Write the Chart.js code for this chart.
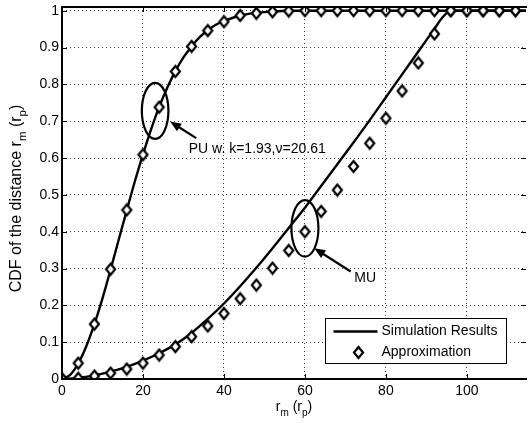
<!DOCTYPE html>
<html>
<head>
<meta charset="utf-8">
<script src="https://cdn.jsdelivr.net/npm/chart.js@4.4.1/dist/chart.umd.min.js"></script>
<style>
  html, body { margin: 0; padding: 0; background: #fff; }
  #wrap { width: 532px; height: 423px; position: relative; }
</style>
</head>
<body>
<div id="wrap"><canvas id="cdfChart"></canvas></div>
<script>
// approximation markers, every 4 units of r_m (r_p)
const approxX = [0,4,8,12,16,20,24,28,32,36,40,44,48,52,56,60,64,68,72,76,80,84,88,92,96,100,104,108,112];
const puApprox = [0,0.043,0.149,0.298,0.459,0.609,0.738,0.835,0.903,0.946,0.970,0.987,0.993,0.997,0.999,1,1,1,1,1,1,1,1,1,1,1,1,1,1];
const muApprox = [0,0.002,0.008,0.016,0.027,0.043,0.065,0.088,0.115,0.144,0.178,0.218,0.255,0.301,0.349,0.400,0.455,0.513,0.577,0.640,0.708,0.782,0.858,0.937,1,1,1,1,1];

// simulation curves
const puSimX = [0,2,4,6,8,10,12,14,16,18,20,22,24,26,28,30,32,34,36,38,40,44,48,52,56,60,80,100,116];
const puSimY = [0,0.011,0.042,0.089,0.149,0.219,0.297,0.378,0.458,0.537,0.610,0.678,0.739,0.791,0.836,0.873,0.903,0.928,0.947,0.962,0.972,0.987,0.994,0.998,1,1,1,1,1];
const muSimX = [0,4,8,12,16,20,24,28,32,36,40,44,48,52,56,60,64,68,72,76,80,84,88,92,94,96,100,116];
const muSimY = [0,0.003,0.01,0.02,0.033,0.05,0.07,0.094,0.125,0.163,0.205,0.252,0.302,0.355,0.41,0.465,0.524,0.583,0.642,0.703,0.765,0.827,0.889,0.951,0.982,1,1,1];

const xTicks = [0,20,40,60,80,100];
const yTicks = [0,0.1,0.2,0.3,0.4,0.5,0.6,0.7,0.8,0.9,1];
const xMax = 114.6;
const yMax = 1.01;

const FONT = '"Liberation Sans", Arial, Helvetica, sans-serif';

const pts = (xs, ys) => xs.map((x, i) => ({ x: x, y: ys[i] }));

// diamond marker (white inside, thick black edge)
const diamond = document.createElement('canvas');
diamond.width = 13;
diamond.height = 15;
(function () {
  const g = diamond.getContext('2d');
  g.beginPath();
  g.moveTo(6.5, 2);
  g.lineTo(11, 7.5);
  g.lineTo(6.5, 13);
  g.lineTo(2, 7.5);
  g.closePath();
  g.fillStyle = '#fff';
  g.fill();
  g.lineWidth = 2.2;
  g.strokeStyle = '#000';
  g.stroke();
})();

// text with subscripts, parts = [[text, isSub], ...]
function partsWidth(ctx, parts, big, small) {
  let w = 0;
  parts.forEach(p => {
    ctx.font = (p[1] ? small : big) + 'px ' + FONT;
    w += ctx.measureText(p[0]).width;
  });
  return w;
}
function drawParts(ctx, parts, x, y, big, small) {
  parts.forEach(p => {
    ctx.font = (p[1] ? small : big) + 'px ' + FONT;
    ctx.fillText(p[0], x, p[1] ? y + 5 : y);
    x += ctx.measureText(p[0]).width;
  });
}

function arrow(ctx, x0, y0, x1, y1) {
  const a = Math.atan2(y1 - y0, x1 - x0);
  const len = 11, hw = 4.5;
  ctx.beginPath();
  ctx.moveTo(x0, y0);
  ctx.lineTo(x1 - Math.cos(a) * len * 0.8, y1 - Math.sin(a) * len * 0.8);
  ctx.stroke();
  ctx.beginPath();
  ctx.moveTo(x1, y1);
  ctx.lineTo(x1 - Math.cos(a) * len - Math.sin(a) * hw, y1 - Math.sin(a) * len + Math.cos(a) * hw);
  ctx.lineTo(x1 - Math.cos(a) * len + Math.sin(a) * hw, y1 - Math.sin(a) * len - Math.cos(a) * hw);
  ctx.closePath();
  ctx.fill();
}

const decor = {
  id: 'decor',
  afterDraw(chart) {
    const ctx = chart.ctx;
    const a = chart.chartArea;
    const sx = chart.scales.x, sy = chart.scales.y;
    ctx.save();
    ctx.strokeStyle = '#000';
    ctx.fillStyle = '#000';

    // inward ticks
    ctx.lineWidth = 1;
    ctx.beginPath();
    yTicks.forEach(v => {
      const y = Math.round(sy.getPixelForValue(v)) + 0.5;
      ctx.moveTo(a.left, y); ctx.lineTo(a.left + 5, y);
      ctx.moveTo(a.right - 5, y); ctx.lineTo(a.right, y);
    });
    xTicks.forEach(v => {
      const x = Math.round(sx.getPixelForValue(v)) + 0.5;
      ctx.moveTo(x, a.bottom); ctx.lineTo(x, a.bottom - 5);
      ctx.moveTo(x, a.top); ctx.lineTo(x, a.top + 5);
    });
    ctx.stroke();

    // axes box
    ctx.lineWidth = 2;
    ctx.beginPath();
    ctx.moveTo(a.right + 1, a.top);
    ctx.lineTo(a.left, a.top);
    ctx.lineTo(a.left, a.bottom);
    ctx.lineTo(a.right + 1, a.bottom);
    ctx.stroke();

    // ellipses and arrows
    ctx.lineWidth = 2.2;
    ctx.beginPath();
    ctx.ellipse(sx.getPixelForValue(23.0), sy.getPixelForValue(0.728), 13.3, 28, 0, 0, Math.PI * 2);
    ctx.stroke();
    ctx.beginPath();
    ctx.ellipse(sx.getPixelForValue(60.0), sy.getPixelForValue(0.409), 13.5, 28.3, 0, 0, Math.PI * 2);
    ctx.stroke();
    arrow(ctx, sx.getPixelForValue(33.15), sy.getPixelForValue(0.654), sx.getPixelForValue(26.7), sy.getPixelForValue(0.699));
    arrow(ctx, sx.getPixelForValue(71.3), sy.getPixelForValue(0.292), sx.getPixelForValue(62.3), sy.getPixelForValue(0.355));

    ctx.font = '14px ' + FONT;
    ctx.textBaseline = 'middle';
    ctx.textAlign = 'left';
    ctx.fillText('PU w. k=1.93,\u03bd=20.61', sx.getPixelForValue(31.3), sy.getPixelForValue(0.625));
    ctx.fillText('MU', sx.getPixelForValue(72.2), sy.getPixelForValue(0.274));

    // legend
    const lx = a.right - 200.5, ly = a.bottom - 60.5, lw = 181, lh = 45;
    ctx.fillStyle = '#fff';
    ctx.fillRect(lx, ly, lw, lh);
    ctx.lineWidth = 1;
    ctx.strokeRect(lx, ly, lw, lh);
    ctx.fillStyle = '#000';
    ctx.lineWidth = 2.3;
    ctx.beginPath();
    ctx.moveTo(lx + 8, ly + 13);
    ctx.lineTo(lx + 52, ly + 13);
    ctx.stroke();
    ctx.drawImage(diamond, lx + 33 - 6.5, ly + 34 - 7.5);
    ctx.fillText('Simulation Results', lx + 56, ly + 13);
    ctx.fillText('Approximation', lx + 56, ly + 34);

    // axis titles
    ctx.textBaseline = 'alphabetic';
    const xt = [['r', false], ['m', true], [' (r', false], ['p', true], [')', false]];
    const xw = partsWidth(ctx, xt, 14, 10);
    drawParts(ctx, xt, (a.left + a.right) / 2 - xw / 2, 411, 14, 10);

    const yt = [['CDF of the distance r', false], ['m', true], [' (r', false], ['p', true], [')', false]];
    const yw = partsWidth(ctx, yt, 16, 11.5);
    ctx.translate(21, 198.5);
    ctx.rotate(-Math.PI / 2);
    drawParts(ctx, yt, -yw / 2, 0, 16, 11.5);
    ctx.restore();
  }
};

new Chart(document.getElementById('cdfChart'), {
  type: 'scatter',
  data: {
    datasets: [
      {
        label: 'Approximation',
        data: pts(approxX, puApprox),
        pointStyle: diamond,
        pointRadius: 5,
        showLine: false,
        order: 0
      },
      {
        label: 'Approximation MU',
        data: pts(approxX, muApprox),
        pointStyle: diamond,
        pointRadius: 5,
        showLine: false,
        order: 0
      },
      {
        label: 'Simulation Results',
        data: pts(puSimX, puSimY),
        showLine: true,
        borderColor: '#000',
        borderWidth: 2.4,
        pointRadius: 0,
        cubicInterpolationMode: 'monotone',
        order: 1
      },
      {
        label: 'Simulation Results MU',
        data: pts(muSimX, muSimY),
        showLine: true,
        borderColor: '#000',
        borderWidth: 2.4,
        pointRadius: 0,
        cubicInterpolationMode: 'monotone',
        order: 1
      }
    ]
  },
  options: {
    responsive: true,
    maintainAspectRatio: false,
    animation: false,
    events: [],
    layout: { padding: { top: 7, left: 0, right: 0, bottom: 0 } },
    plugins: { legend: { display: false }, tooltip: { enabled: false } },
    scales: {
      x: {
        type: 'linear',
        min: 0,
        max: xMax,
        afterBuildTicks: s => { s.ticks = xTicks.map(v => ({ value: v })); },
        afterFit: s => { s.height = 44; s.paddingLeft = 0; s.paddingRight = 0; },
        ticks: { color: '#000', font: { family: FONT, size: 14 }, padding: 4, maxRotation: 0, autoSkip: false },
        grid: { color: '#444', lineWidth: 1, drawTicks: false },
        border: { display: false, dash: [1, 3] }
      },
      y: {
        type: 'linear',
        min: 0,
        max: yMax,
        afterBuildTicks: s => { s.ticks = yTicks.map(v => ({ value: v })); },
        afterFit: s => { s.width = 62; s.paddingTop = 0; s.paddingBottom = 0; },
        ticks: {
          color: '#000',
          font: { family: FONT, size: 14 },
          padding: 3,
          autoSkip: false,
          callback: v => String(Math.round(v * 10) / 10)
        },
        grid: { color: '#444', lineWidth: 1, drawTicks: false },
        border: { display: false, dash: [1, 3] }
      }
    }
  },
  plugins: [decor]
});
</script>
</body>
</html>
